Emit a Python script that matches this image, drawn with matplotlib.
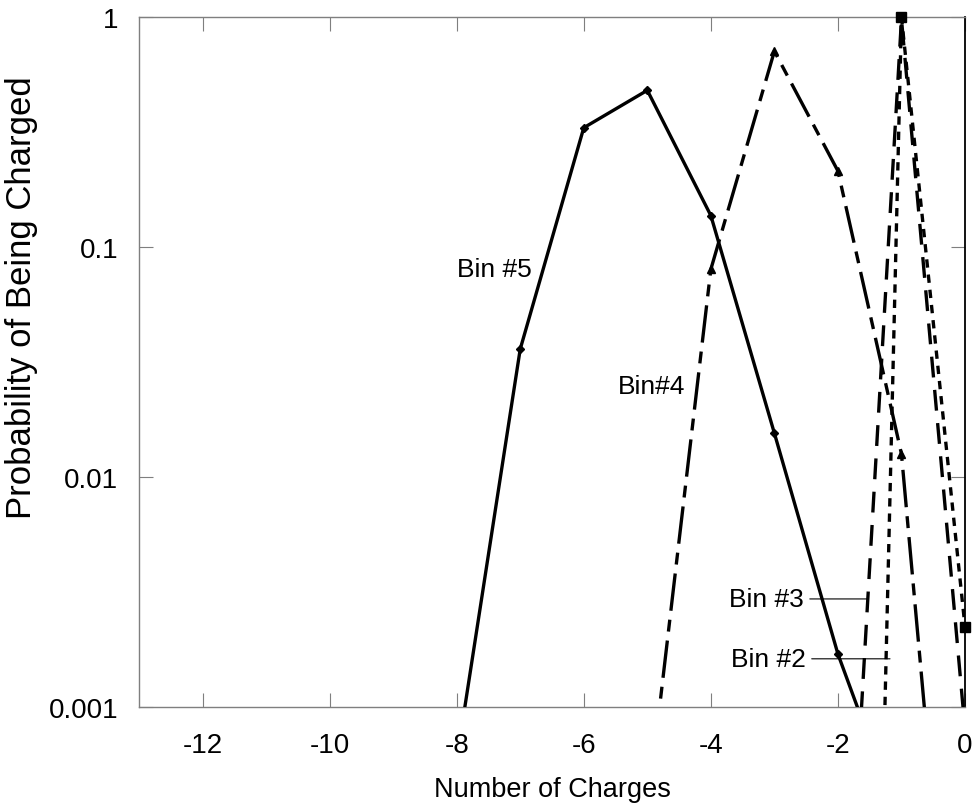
import matplotlib
matplotlib.use("Agg")
import matplotlib.pyplot as plt
from matplotlib.ticker import FixedLocator, FixedFormatter

plt.rcParams['font.family'] = ['Liberation Sans', 'DejaVu Sans']
plt.rcParams['lines.scale_dashes'] = False

# ---- data ----
charges = [-8, -7, -6, -5, -4, -3, -2, -1, 0]
bin5 = [0.00059, 0.036, 0.33, 0.48, 0.137, 0.0155, 0.0017, 0.0003, None]
bin4 = [None, None, None, 0.00035, 0.080, 0.71, 0.214, 0.0126, 0.000011]
bin3 = [None, None, None, None, None, None, 0.000017, 0.98, 0.0008]
bin2 = [None, None, None, None, None, None, 3e-12, 1.0, 0.00223]

xticks = [-12, -10, -8, -6, -4, -2, 0]
xtick_labels = ['-12', '-10', '-8', '-6', '-4', '-2', '0']
yticks = [0.001, 0.01, 0.1, 1]
ytick_labels = ['0.001', '0.01', '0.1', '1']


def pts(xs, ys):
    px = [x for x, y in zip(xs, ys) if y is not None]
    py = [y for y in ys if y is not None]
    return px, py


W, H = 977, 812
fig = plt.figure(figsize=(W / 100, H / 100), dpi=100)
ax = fig.add_axes([139 / W, 1 - 708 / H, (965 - 139) / W, (708 - 18) / H])

lw = 2.4
x, y = pts(charges, bin5)
ax.plot(x, y, color='black', lw=lw, marker='D', markersize=4.5, zorder=5)

x, y = pts(charges, bin4)
ax.plot(x, y, color='black', lw=lw, marker='^', markersize=6,
        dashes=[27, 6.5, 8.6, 6.5], zorder=4)

x, y = pts(charges, bin3)
ax.plot(x, y, color='black', lw=lw, dashes=[15, 9], zorder=3)

x, y = pts(charges, bin2)
ax.plot(x, y, color='black', lw=lw, dashes=[6, 5], zorder=3)
# square markers drawn unclipped so the ones on the frame show fully
ax.plot([xv for xv, yv in zip(x, y) if yv >= 0.001],
        [yv for yv in y if yv >= 0.001], ls='none', marker='s',
        markersize=7, color='black', clip_on=False, zorder=6)

ax.set_yscale('log')
ax.set_xlim(-13, 0)
ax.set_ylim(0.001, 1)

ax.xaxis.set_major_locator(FixedLocator(xticks))
ax.xaxis.set_major_formatter(FixedFormatter(xtick_labels))
ax.yaxis.set_major_locator(FixedLocator(yticks))
ax.yaxis.set_major_formatter(FixedFormatter(ytick_labels))
ax.yaxis.set_minor_locator(FixedLocator([]))

tick_gray = '#7f7f7f'
ax.tick_params(axis='both', which='major', direction='in', length=10,
               width=0.8, color=tick_gray, labelsize=20,
               top=True, right=True)
ax.tick_params(axis='x', pad=18)
ax.tick_params(axis='y', pad=15)

for side in ['left', 'top', 'bottom']:
    ax.spines[side].set_color(tick_gray)
    ax.spines[side].set_linewidth(1.0)
ax.spines['right'].set_color('black')
ax.spines['right'].set_linewidth(1.3)

ax.set_xlabel('Number of Charges', fontsize=19.5)
ax.set_ylabel('Probability of Being Charged', fontsize=25)

# place axis labels where the reference has them
ax.xaxis.set_label_coords((552 - 139) / (965 - 139), -(790 - 708) / (708 - 18))
ax.xaxis.label.set_va('center')
ax.yaxis.set_label_coords(-(139 - 22) / (965 - 139), (708 - 298) / (708 - 18))
ax.yaxis.label.set_va('center')

fs = 19
ax.text(-7.40, 0.080, 'Bin #5', fontsize=fs, ha='center', va='center')
ax.text(-4.94, 0.0249, 'Bin#4', fontsize=fs, ha='center', va='center')
ax.annotate('Bin #3', xy=(-1.54, 0.00295), xytext=(-2.53, 0.00295),
            fontsize=fs, ha='right', va='center',
            arrowprops=dict(arrowstyle='-', color='black', lw=0.8,
                            shrinkA=2, shrinkB=0))
ax.annotate('Bin #2', xy=(-1.18, 0.00162), xytext=(-2.50, 0.00162),
            fontsize=fs, ha='right', va='center',
            arrowprops=dict(arrowstyle='-', color='black', lw=0.8,
                            shrinkA=2, shrinkB=0))

fig.savefig('out.png', dpi=100)
